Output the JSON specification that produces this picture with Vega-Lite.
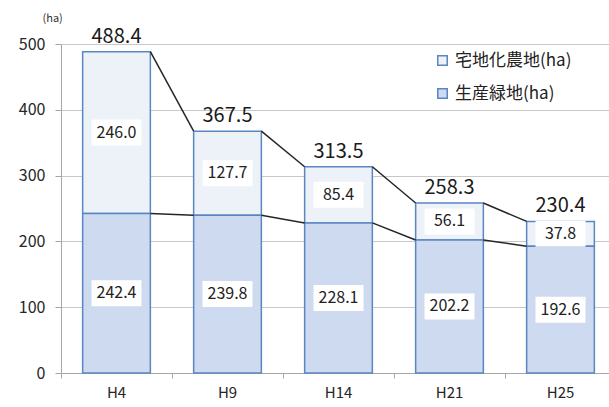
{
  "$schema": "https://vega.github.io/schema/vega-lite/v6.json",
  "width": 548,
  "height": 329,
  "autosize": {"type": "none"},
  "padding": {"left": 61, "top": 44, "right": 0, "bottom": 34},
  "config": {
    "view": {"stroke": null},
    "font": "Noto Sans CJK JP",
    "axis": {"labelFont": "Noto Sans CJK JP", "titleFont": "Noto Sans CJK JP"},
    "legend": {"labelFont": "Noto Sans CJK JP"}
  },
  "datasets": {
    "bars": [
      {"year": "H4", "series": "宅地化農地(ha)", "value": 246.0},
      {"year": "H4", "series": "生産緑地(ha)", "value": 242.4},
      {"year": "H9", "series": "宅地化農地(ha)", "value": 127.7},
      {"year": "H9", "series": "生産緑地(ha)", "value": 239.8},
      {"year": "H14", "series": "宅地化農地(ha)", "value": 85.4},
      {"year": "H14", "series": "生産緑地(ha)", "value": 228.1},
      {"year": "H21", "series": "宅地化農地(ha)", "value": 56.1},
      {"year": "H21", "series": "生産緑地(ha)", "value": 202.2},
      {"year": "H25", "series": "宅地化農地(ha)", "value": 37.8},
      {"year": "H25", "series": "生産緑地(ha)", "value": 192.6}
    ],
    "totals": [
      {"year": "H4", "total": 488.4},
      {"year": "H9", "total": 367.5},
      {"year": "H14", "total": 313.5},
      {"year": "H21", "total": 258.3},
      {"year": "H25", "total": 230.4}
    ],
    "links": [
      {"from": "H4", "to": "H9", "v1": 488.4, "v2": 367.5},
      {"from": "H9", "to": "H14", "v1": 367.5, "v2": 313.5},
      {"from": "H14", "to": "H21", "v1": 313.5, "v2": 258.3},
      {"from": "H21", "to": "H25", "v1": 258.3, "v2": 230.4},
      {"from": "H4", "to": "H9", "v1": 242.4, "v2": 239.8},
      {"from": "H9", "to": "H14", "v1": 239.8, "v2": 228.1},
      {"from": "H14", "to": "H21", "v1": 228.1, "v2": 202.2},
      {"from": "H21", "to": "H25", "v1": 202.2, "v2": 192.6}
    ]
  },
  "layer": [
    {
      "data": {"name": "bars"},
      "mark": {"type": "bar", "width": {"band": 0.61}, "stroke": "#5a87c2", "strokeWidth": 1.5},
      "encoding": {
        "x": {
          "field": "year", "type": "nominal",
          "scale": {"domain": ["H4", "H9", "H14", "H21", "H25"], "range": [0, 555], "paddingInner": 0, "paddingOuter": 0},
          "axis": {
            "title": null, "labelAngle": 0, "labelFontSize": 15, "labelColor": "#262626",
            "labelPadding": 7, "bandPosition": 0, "tickSize": 5, "tickColor": "#a6a6a6",
            "domainColor": "#a6a6a6", "grid": false
          }
        },
        "y": {
          "field": "value", "type": "quantitative", "stack": "zero",
          "scale": {"domain": [0, 500], "nice": false},
          "axis": {
            "values": [0, 100, 200, 300, 400, 500],
            "title": "(ha)", "titleAngle": 0, "titleFontSize": 11, "titleFontWeight": "normal",
            "titleColor": "#333333", "titleX": -19, "titleY": -26, "titleAlign": "left", "titleBaseline": "middle",
            "labelFontSize": 16, "labelColor": "#262626", "labelPadding": 10,
            "tickSize": 6, "tickColor": "#a6a6a6", "domainColor": "#a6a6a6",
            "grid": true, "gridColor": "#c8c8c8"
          }
        },
        "color": {
          "field": "series", "type": "nominal",
          "scale": {"domain": ["宅地化農地(ha)", "生産緑地(ha)"], "range": ["#edf2f9", "#cddaef"]},
          "legend": {
            "title": null, "orient": "none", "legendX": 369, "legendY": 4,
            "labelFontSize": 17, "labelColor": "#222222", "symbolType": "square", "symbolSize": 90,
            "symbolStrokeColor": "#5a87c2", "symbolStrokeWidth": 1.5, "rowPadding": 15, "labelOffset": 4,
            "fillColor": "#ffffff", "padding": 4
          }
        },
        "order": {"field": "series", "sort": "descending"}
      }
    },
    {
      "data": {"name": "links"},
      "mark": {"type": "rule", "color": "#262626", "strokeWidth": 1.5},
      "encoding": {
        "x": {"field": "from", "type": "nominal", "bandPosition": 0.805},
        "x2": {"field": "to", "bandPosition": 0.195},
        "y": {"field": "v1", "type": "quantitative"},
        "y2": {"field": "v2"}
      }
    },
    {
      "data": {"name": "bars"},
      "transform": [
        {"stack": "value", "groupby": ["year"], "sort": [{"field": "series", "order": "descending"}], "as": ["lo", "hi"]},
        {"calculate": "(datum.lo + datum.hi) / 2", "as": "mid"}
      ],
      "layer": [
        {
          "mark": {"type": "point", "shape": "M-1,-0.52H1V0.52H-1Z", "size": 2500, "filled": true, "fill": "#ffffff", "opacity": 1, "strokeWidth": 0},
          "encoding": {
            "x": {"field": "year", "type": "nominal"},
            "y": {"field": "mid", "type": "quantitative"}
          }
        },
        {
          "mark": {"type": "text", "fontSize": 16, "color": "#222222", "baseline": "middle"},
          "encoding": {
            "x": {"field": "year", "type": "nominal"},
            "y": {"field": "mid", "type": "quantitative"},
            "text": {"field": "value", "type": "quantitative", "format": ".1f"}
          }
        }
      ]
    },
    {
      "data": {"name": "totals"},
      "mark": {"type": "text", "fontSize": 20, "color": "#1a1a1a", "dy": -15, "baseline": "middle"},
      "encoding": {
        "x": {"field": "year", "type": "nominal"},
        "y": {"field": "total", "type": "quantitative"},
        "text": {"field": "total", "type": "quantitative", "format": ".1f"}
      }
    }
  ]
}
